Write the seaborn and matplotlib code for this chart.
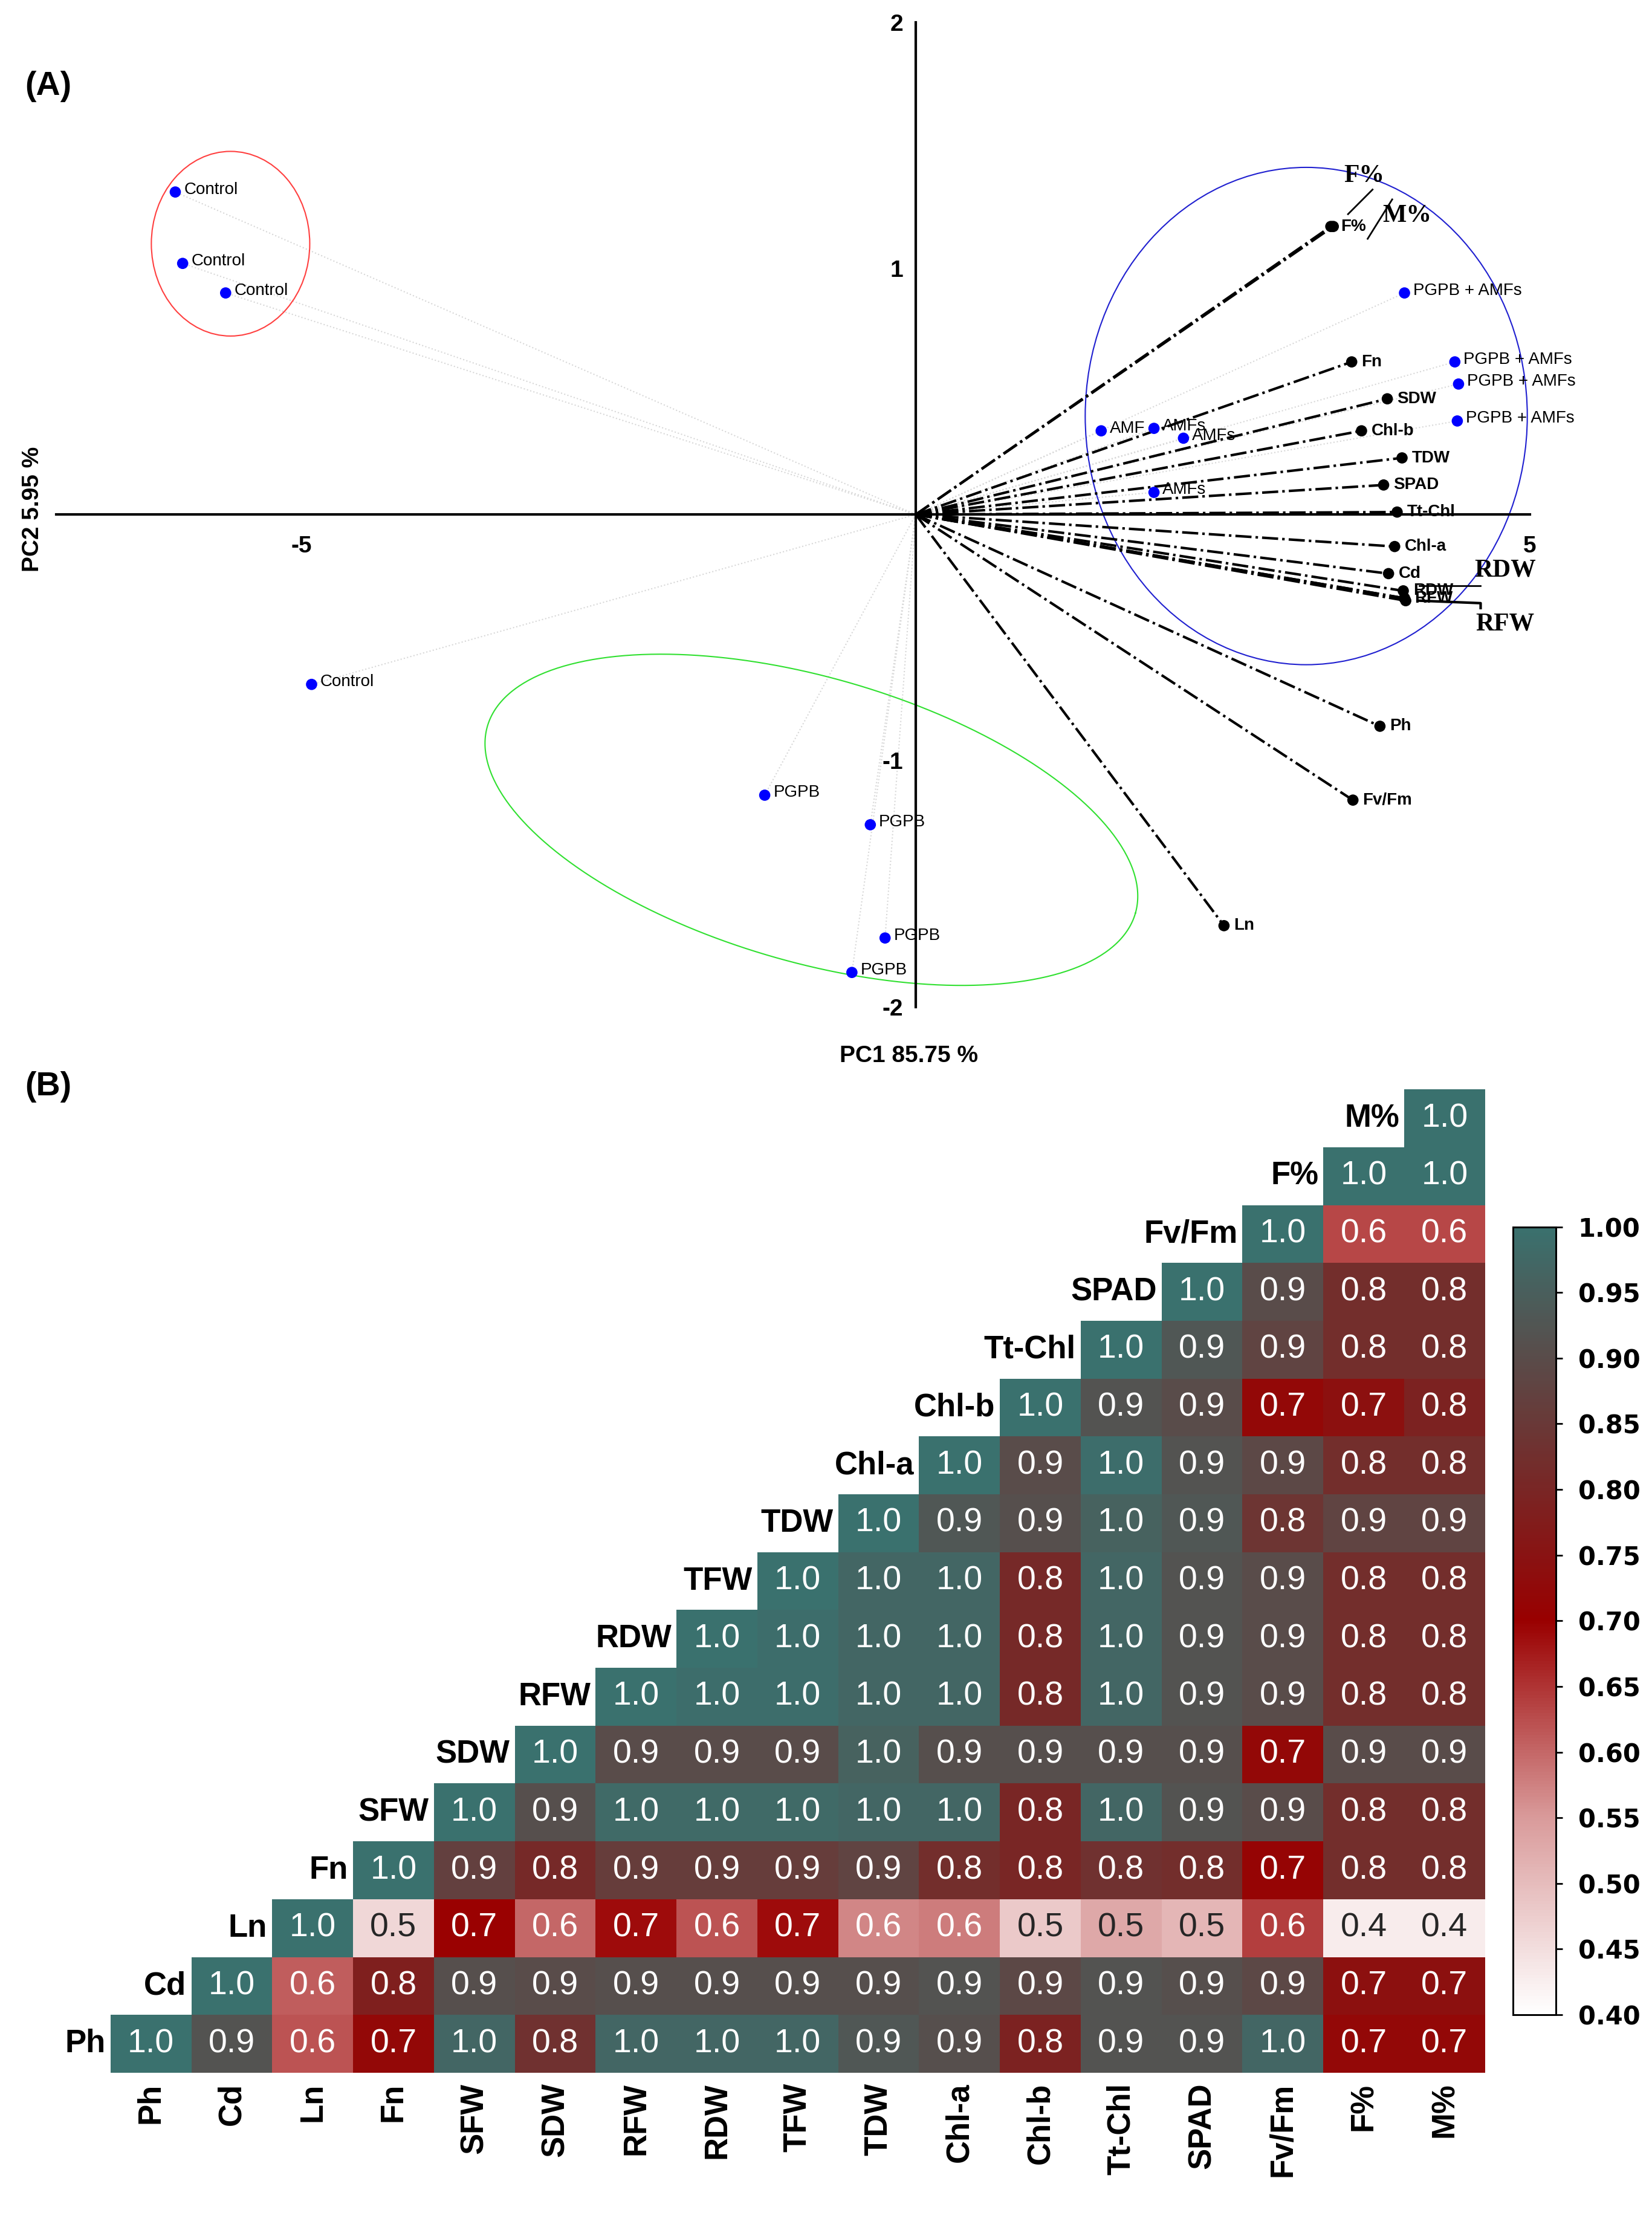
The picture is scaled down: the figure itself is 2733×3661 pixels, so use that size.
import numpy as np
import pandas as pd
import matplotlib
matplotlib.use("Agg")
import matplotlib.pyplot as plt
from matplotlib.colors import LinearSegmentedColormap
from matplotlib.patches import Ellipse
import seaborn as sns

plt.rcParams["axes.unicode_minus"] = False

# ---------------- data: PCA scores ----------------
sample_labels = ["Control", "Control", "Control", "Control",
                 "PGPB", "PGPB", "PGPB", "PGPB",
                 "AMF", "AMFs", "AMFs", "AMFs",
                 "PGPB + AMFs", "PGPB + AMFs", "PGPB + AMFs", "PGPB + AMFs"]
sample_pc1 = [-6.03, -5.97, -5.62, -4.92, -1.23, -0.37, -0.25, -0.52,
              1.51, 1.94, 2.18, 1.94, 3.98, 4.39, 4.42, 4.41]
sample_pc2 = [1.31, 1.02, 0.90, -0.69, -1.14, -1.26, -1.72, -1.86,
              0.34, 0.35, 0.31, 0.09, 0.90, 0.62, 0.53, 0.38]

# ---------------- data: PCA loadings ----------------
var_labels = ["F%", "M%", "Fn", "SDW", "Chl-b", "TDW", "SPAD", "Tt-Chl", "Chl-a",
              "Cd", "RDW", "RFW", "SFW", "TFW", "Ph", "Fv/Fm", "Ln"]
var_pc1 = [3.38, 3.40, 3.55, 3.84, 3.63, 3.96, 3.81, 3.92, 3.90,
           3.85, 3.97, 3.98, 3.98, 3.99, 3.78, 3.56, 2.51]
var_pc2 = [1.17, 1.17, 0.62, 0.47, 0.34, 0.23, 0.12, 0.01, -0.13,
           -0.24, -0.31, -0.34, -0.34, -0.35, -0.86, -1.16, -1.67]

# ---------------- data: correlation matrix ----------------
corr_vars = ["Ph", "Cd", "Ln", "Fn", "SFW", "SDW", "RFW", "RDW", "TFW", "TDW",
             "Chl-a", "Chl-b", "Tt-Chl", "SPAD", "Fv/Fm", "F%", "M%"]
corr_upper = [
    [1.00, 0.92, 0.62, 0.72, 0.97, 0.83, 0.97, 0.97, 0.97, 0.93, 0.91, 0.79, 0.92, 0.92, 0.97, 0.72, 0.72],
    [1.00, 0.61, 0.78, 0.91, 0.90, 0.91, 0.91, 0.91, 0.91, 0.92, 0.89, 0.92, 0.91, 0.89, 0.74, 0.74],
    [1.00, 0.46, 0.70, 0.60, 0.69, 0.62, 0.69, 0.57, 0.58, 0.48, 0.53, 0.51, 0.64, 0.43, 0.43],
    [1.00, 0.87, 0.81, 0.86, 0.86, 0.86, 0.88, 0.82, 0.80, 0.83, 0.82, 0.71, 0.82, 0.82],
    [1.00, 0.91, 0.98, 0.98, 0.98, 0.97, 0.97, 0.80, 0.97, 0.92, 0.90, 0.82, 0.82],
    [1.00, 0.90, 0.90, 0.90, 0.96, 0.91, 0.91, 0.91, 0.91, 0.72, 0.90, 0.90],
    [1.00, 0.99, 0.99, 0.97, 0.97, 0.81, 0.97, 0.92, 0.90, 0.82, 0.82],
    [1.00, 0.99, 0.97, 0.97, 0.81, 0.97, 0.92, 0.90, 0.82, 0.82],
    [1.00, 0.97, 0.97, 0.81, 0.97, 0.92, 0.90, 0.82, 0.82],
    [1.00, 0.93, 0.91, 0.96, 0.93, 0.84, 0.88, 0.88],
    [1.00, 0.90, 0.99, 0.92, 0.89, 0.82, 0.82],
    [1.00, 0.92, 0.90, 0.72, 0.74, 0.79],
    [1.00, 0.93, 0.88, 0.82, 0.82],
    [1.00, 0.90, 0.82, 0.82],
    [1.00, 0.63, 0.63],
    [1.00, 1.00],
    [1.00],
]

SANS = "Liberation Sans"
SERIF = "Liberation Serif"

fig = plt.figure(figsize=(27.33, 36.61), dpi=100)

# ================= Panel A =================
ax = fig.add_axes([0.034, 0.545, 0.892, 0.445])
ax.set_xlim(-7.0, 5.0)
ax.set_ylim(-2.0, 2.0)
for s in ["top", "right"]:
    ax.spines[s].set_visible(False)
ax.spines["left"].set_position(("data", 0))
ax.spines["bottom"].set_position(("data", 0))
for s in ["left", "bottom"]:
    ax.spines[s].set_linewidth(3)
ax.set_xticks([-5, 5])
ax.set_yticks([-2, -1, 1, 2])
ax.tick_params(length=0, labelsize=28)
for t in ax.get_xticklabels() + ax.get_yticklabels():
    t.set_fontweight("bold"); t.set_fontfamily(SANS)
ax.tick_params(axis="x", pad=25)
ax.tick_params(axis="y", pad=15)

# sample connecting lines
for x, y in zip(sample_pc1, sample_pc2):
    ax.plot([0, x], [0, y], color="#d8d8d8", lw=1.5, ls=":", zorder=1)
# variable vectors
for x, y in zip(var_pc1, var_pc2):
    ax.plot([0, x], [0, y], color="black", lw=3, ls="-.", zorder=2)

sns.scatterplot(x=var_pc1, y=var_pc2, color="black", s=180, edgecolor="none", ax=ax, zorder=3)
sns.scatterplot(x=sample_pc1, y=sample_pc2, color="#0000ff", s=180, edgecolor="none", ax=ax, zorder=4)

for lab, x, y in zip(sample_labels, sample_pc1, sample_pc2):
    ax.text(x + 0.07, y + 0.01, lab, fontsize=20, fontfamily=SANS, va="center", zorder=5)
skip = {"M%", "SFW", "TFW"}
for lab, x, y in zip(var_labels, var_pc1, var_pc2):
    if lab in skip:
        continue
    ax.text(x + 0.08, y, lab, fontsize=20, fontweight="bold", fontfamily=SANS, va="center", zorder=5)

# callout labels
ax.text(3.65, 1.35, "F%", fontsize=30, fontweight="bold", fontfamily=SERIF, ha="center")
ax.plot([3.52, 3.72], [1.22, 1.32], color="black", lw=2)
ax.text(4.0, 1.19, "M%", fontsize=30, fontweight="bold", fontfamily=SERIF, ha="center")
ax.plot([3.68, 3.88], [1.12, 1.28], color="black", lw=2)
ax.text(4.8, -0.25, "RDW", fontsize=30, fontweight="bold", fontfamily=SERIF, ha="center")
ax.plot([4.1, 4.6], [-0.29, -0.29], color="black", lw=2)
ax.text(4.8, -0.47, "RFW", fontsize=30, fontweight="bold", fontfamily=SERIF, ha="center")
ax.plot([4.1, 4.6, 4.6], [-0.35, -0.36, -0.38], color="black", lw=3)

# confidence ellipses
ax.add_patch(Ellipse((-5.58, 1.10), 1.29, 0.75, fill=False, ec="#ff4040", lw=1.5))
ax.add_patch(Ellipse((3.18, 0.40), 3.6, 2.02, fill=False, ec="#2020d0", lw=1.5))
# green ellipse: defined in display-like units (x: 86.7 px/unit, y: 173 px/unit)
t = np.linspace(0, 2 * np.pi, 400)
a, b, ang = 238.0, 100.0, np.deg2rad(-16)
ex = a * np.cos(t) * np.cos(ang) - b * np.sin(t) * np.sin(ang)
ey = a * np.cos(t) * np.sin(ang) + b * np.sin(t) * np.cos(ang)
ax.plot(-0.85 + ex / 86.7, -1.24 + ey / 173.0, color="#30e030", lw=1.5)

fig.text(0.55, 0.520, "PC1 85.75 %", fontsize=28, fontweight="bold", fontfamily=SANS, ha="center")
fig.text(0.013, 0.77, "PC2 5.95 %", fontsize=28, fontweight="bold", fontfamily=SANS, rotation=90, va="center")
fig.text(0.015, 0.957, "(A)", fontsize=40, fontweight="bold", fontfamily=SANS)
fig.text(0.015, 0.505, "(B)", fontsize=40, fontweight="bold", fontfamily=SANS)

# ================= Panel B =================
n = len(corr_vars)
mat = np.full((n, n), np.nan)
for i, row in enumerate(corr_upper):
    for k, v in enumerate(row):
        mat[i, i + k] = v
df = pd.DataFrame(mat[::-1], index=corr_vars[::-1], columns=corr_vars)
mask = df.isna()

cmap = LinearSegmentedColormap.from_list(
    "rt", [(0.0, "#ffffff"), (0.25, "#d99a9a"), (0.5, "#990000"), (1.0, "#3a716e")])

hax = fig.add_axes([0.0669, 0.0634, 0.832, 0.4443])
cax = fig.add_axes([0.916, 0.0896, 0.026, 0.356])
sns.heatmap(df, mask=mask, cmap=cmap, vmin=0.4, vmax=1.0, annot=True, fmt=".1f",
            annot_kws={"fontsize": 40, "fontfamily": SANS},
            cbar_ax=cax, ax=hax, square=False, linewidths=0)
hax.set_yticks([])
hax.set_xticklabels(corr_vars, rotation=90, fontsize=38, fontweight="bold", fontfamily=SANS)
hax.tick_params(axis="x", length=0, pad=12)
hax.set_xlabel(""); hax.set_ylabel("")
for i, name in enumerate(corr_vars):
    r = n - 1 - i
    hax.text(i - 0.06, r + 0.5, name, fontsize=38, fontweight="bold", fontfamily=SANS,
             ha="right", va="center")

ticks = np.round(np.arange(0.40, 1.001, 0.05), 2)
cax.set_yticks(ticks)
cax.set_yticklabels([f"{v:.2f}" for v in ticks], fontsize=30, fontweight="bold", fontfamily="DejaVu Sans")
cax.tick_params(axis="y", length=8, width=2, pad=18)
for s in cax.spines.values():
    s.set_visible(True); s.set_linewidth(2)

fig.savefig("out.png", dpi=100)
